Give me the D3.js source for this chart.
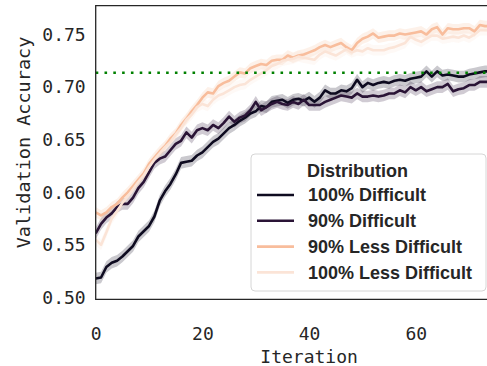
<!DOCTYPE html>
<html>
<head>
<meta charset="utf-8">
<script src="https://cdn.jsdelivr.net/npm/d3@7"></script>
<style>
  body { margin: 0; background: #fff; }
  svg { display: block; }
</style>
</head>
<body>
<div id="chart"></div>
<script>
// iterations 0..74
const iterations = d3.range(0, 75);

const seriesNames = ["100% Difficult", "90% Difficult", "90% Less Difficult", "100% Less Difficult"];
const seriesColors = ["#0e0b20", "#2a1436", "#f8bd9c", "#fbe4d7"];

const acc100Difficult = [
  0.518, 0.519, 0.529, 0.533, 0.535, 0.539, 0.544, 0.549, 0.558, 0.563,
  0.568, 0.577, 0.592, 0.601, 0.608, 0.617, 0.628, 0.629, 0.630, 0.635,
  0.638, 0.643, 0.648, 0.651, 0.656, 0.661, 0.664, 0.668, 0.671, 0.675,
  0.677, 0.682, 0.681, 0.686, 0.687, 0.688, 0.685, 0.688, 0.689, 0.687,
  0.690, 0.686, 0.690, 0.697, 0.694, 0.694, 0.697, 0.696, 0.699, 0.707,
  0.700, 0.704, 0.702, 0.704, 0.705, 0.704, 0.706, 0.707, 0.706, 0.708,
  0.709, 0.710, 0.715, 0.710, 0.715, 0.711, 0.712, 0.711, 0.710, 0.710,
  0.712, 0.713, 0.714, 0.715, 0.715
];
const acc90Difficult = [
  0.561, 0.570, 0.576, 0.580, 0.586, 0.589, 0.589, 0.595, 0.604, 0.610,
  0.619, 0.628, 0.632, 0.634, 0.640, 0.646, 0.649, 0.657, 0.652, 0.659,
  0.661, 0.659, 0.664, 0.661, 0.666, 0.672, 0.667, 0.671, 0.673, 0.678,
  0.686, 0.678, 0.681, 0.684, 0.686, 0.684, 0.683, 0.686, 0.684, 0.688,
  0.683, 0.683, 0.683, 0.686, 0.688, 0.690, 0.692, 0.691, 0.690, 0.694,
  0.691, 0.691, 0.692, 0.691, 0.692, 0.694, 0.694, 0.697, 0.695, 0.700,
  0.697, 0.700, 0.696, 0.698, 0.700, 0.700, 0.703, 0.696, 0.698, 0.699,
  0.702, 0.702, 0.705, 0.705, 0.705
];
const acc90LessDifficult = [
  0.581, 0.578, 0.581, 0.586, 0.589, 0.595, 0.600, 0.606, 0.612, 0.618,
  0.627, 0.633, 0.639, 0.644, 0.651, 0.656, 0.664, 0.670, 0.677, 0.683,
  0.690, 0.695, 0.694, 0.701, 0.704, 0.706, 0.710, 0.714, 0.713, 0.718,
  0.720, 0.722, 0.721, 0.725, 0.726, 0.726, 0.730, 0.728, 0.730, 0.731,
  0.733, 0.735, 0.738, 0.740, 0.738, 0.740, 0.742, 0.738, 0.735, 0.742,
  0.746, 0.748, 0.751, 0.747, 0.748, 0.749, 0.749, 0.751, 0.750, 0.751,
  0.752, 0.753, 0.750, 0.755, 0.757, 0.750, 0.756, 0.755, 0.755, 0.756,
  0.756, 0.753, 0.759, 0.758, 0.758
];
const acc100LessDifficult = [
  0.555, 0.550, 0.562, 0.575, 0.582, 0.590, 0.596, 0.603, 0.610, 0.616,
  0.624, 0.631, 0.637, 0.643, 0.648, 0.655, 0.661, 0.669, 0.674, 0.681,
  0.684, 0.682, 0.688, 0.692, 0.694, 0.697, 0.700, 0.702, 0.703, 0.707,
  0.710, 0.713, 0.716, 0.720, 0.722, 0.725, 0.726, 0.727, 0.729, 0.728,
  0.727, 0.726, 0.731, 0.734, 0.732, 0.730, 0.733, 0.736, 0.733, 0.735,
  0.734, 0.737, 0.735, 0.735, 0.735, 0.737, 0.738, 0.740, 0.742, 0.748,
  0.745, 0.743, 0.746, 0.749, 0.749, 0.746, 0.747, 0.748, 0.747, 0.749,
  0.747, 0.750, 0.754, 0.754, 0.754
];
// half width of the shaded band around each line
const bandHalf = [0.0055, 0.0055, 0.005, 0.005];

const xTicks = [0, 20, 40, 60];
const yTicks = [0.50, 0.55, 0.60, 0.65, 0.70, 0.75];
const baseline = 0.7137;

const allSeries = [acc100Difficult, acc90Difficult, acc90LessDifficult, acc100LessDifficult];

const width = 487, height = 366;
const plot = { left: 95.7, top: 5.7, bottom: 299.3 };
const monoFont = "DejaVu Sans Mono", sansFont = "Liberation Sans, Arial, sans-serif";

const svg = d3.select("#chart").append("svg")
  .attr("width", width)
  .attr("height", height);

const x = d3.scaleLinear().domain([0, 80]).range([plot.left, plot.left + 80 * 5.335]);
const y = d3.scaleLinear().domain([0.4983, 0.7774]).range([plot.bottom, plot.top]);

svg.append("clipPath").attr("id", "clip")
  .append("rect")
  .attr("x", plot.left).attr("y", plot.top)
  .attr("width", width - plot.left).attr("height", plot.bottom - plot.top);

const g = svg.append("g").attr("clip-path", "url(#clip)");

// bands
allSeries.forEach((vals, i) => {
  const area = d3.area()
    .x((d, j) => x(iterations[j]))
    .y0(d => y(d - bandHalf[i]))
    .y1(d => y(d + bandHalf[i]));
  g.append("path")
    .datum(vals)
    .attr("d", area)
    .attr("fill", seriesColors[i])
    .attr("fill-opacity", 0.22);
});

// lines
allSeries.forEach((vals, i) => {
  const line = d3.line()
    .x((d, j) => x(iterations[j]))
    .y(d => y(d));
  g.append("path")
    .datum(vals)
    .attr("d", line)
    .attr("fill", "none")
    .attr("stroke", seriesColors[i])
    .attr("stroke-width", 2.6)
    .attr("stroke-linejoin", "round");
});

// dotted reference line
g.append("line")
  .attr("x1", plot.left).attr("x2", width)
  .attr("y1", y(baseline)).attr("y2", y(baseline))
  .attr("stroke", "#008000")
  .attr("stroke-width", 2.6)
  .attr("stroke-dasharray", "2.6,6.2");

// axes
const yAxis = svg.append("g")
  .attr("transform", `translate(${plot.left},0)`)
  .call(d3.axisLeft(y).tickValues(yTicks).tickFormat(d3.format(".2f")).tickSize(0).tickPadding(10));
const xAxis = svg.append("g")
  .attr("transform", `translate(0,${plot.bottom})`)
  .call(d3.axisBottom(x).tickValues(xTicks).tickSize(0).tickPadding(28.4));

[xAxis, yAxis].forEach(a => {
  a.select(".domain").remove();
  a.selectAll("text")
    .attr("fill", "#262626")
    .style("font-family", monoFont)
    .style("font-size", "18px");
});

// spines: left, top, bottom
svg.append("path")
  .attr("d", `M${width},${plot.top}H${plot.left}V${plot.bottom}H${width}`)
  .attr("fill", "none")
  .attr("stroke", "#262626")
  .attr("stroke-width", 1.3);

svg.append("text")
  .attr("x", x(40)).attr("y", 363)
  .attr("text-anchor", "middle")
  .attr("fill", "#262626")
  .style("font-family", monoFont)
  .style("font-size", "18px")
  .text("Iteration");

svg.append("text")
  .attr("transform", `translate(30,142.5) rotate(-90)`)
  .attr("text-anchor", "middle")
  .attr("fill", "#262626")
  .style("font-family", monoFont)
  .style("font-size", "18.5px")
  .text("Validation Accuracy");

// legend
const legend = svg.append("g");
legend.append("rect")
  .attr("x", 251).attr("y", 154)
  .attr("width", 235).attr("height", 137)
  .attr("rx", 4)
  .attr("fill", "#fff").attr("fill-opacity", 0.8)
  .attr("stroke", "#d6d6d6").attr("stroke-width", 1);
legend.append("text")
  .attr("x", 357.5).attr("y", 176.5)
  .attr("text-anchor", "middle")
  .attr("fill", "#262626")
  .style("font-family", sansFont)
  .style("font-weight", "bold")
  .style("font-size", "18px")
  .text("Distribution");
seriesNames.forEach((name, i) => {
  const cy = 195 + i * 25.8;
  legend.append("line")
    .attr("x1", 257).attr("x2", 294)
    .attr("y1", cy).attr("y2", cy)
    .attr("stroke", seriesColors[i])
    .attr("stroke-width", 2.6);
  legend.append("text")
    .attr("x", 308).attr("y", cy + 6.3)
    .attr("fill", "#262626")
    .style("font-family", sansFont)
    .style("font-weight", "bold")
    .style("font-size", "18px")
    .text(name);
});
</script>
</body>
</html>
